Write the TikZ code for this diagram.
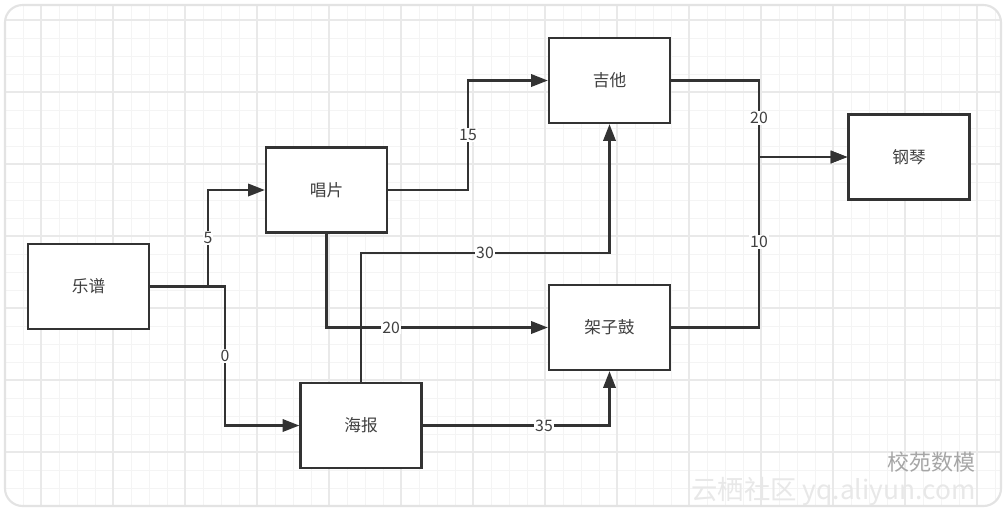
\documentclass[tikz,border=0pt]{standalone}
\usepackage{fontspec}
\setmainfont{Noto Sans CJK SC}
\usetikzlibrary{arrows.meta}
\definecolor{ln}{HTML}{333333}
\definecolor{gmin}{HTML}{F4F4F4}
\definecolor{gmaj}{HTML}{E9E9E9}
\tikzset{
  box/.style={draw=ln, line width=1.3pt, fill=white, minimum width=121*0.02cm, minimum height=85*0.02cm, inner sep=0pt, font=\fontsize{9.5}{11}\selectfont, text=black!75},
  conn/.style={draw=ln, line width=1.35pt},
  arr/.style={conn, -{Triangle[length=9.5pt,width=7pt]}},
  lbl/.style={fill=white, inner sep=0.6pt, font=\fontsize{9}{10}\selectfont, text=black!75}
}
\begin{document}
\begin{tikzpicture}[x=0.02cm,y=-0.02cm]
\useasboundingbox (0,0) rectangle (1008,512);
\fill[white] (0,0) rectangle (1008,512);
% grid
\begin{scope}
\clip[rounded corners=10] (5,5) rectangle (1001,506);
\foreach \i in {0,...,56} {\draw[gmin, line width=0.5pt] (5+18*\i,5) -- (5+18*\i,506);}
\foreach \i in {0,...,28} {\draw[gmin, line width=0.5pt] (5,2+18*\i) -- (1001,2+18*\i);}
\foreach \i in {-1,...,13} {\draw[gmaj, line width=0.6pt] (113+72*\i,5) -- (113+72*\i,506);}
\foreach \i in {-1,...,6} {\draw[gmaj, line width=0.6pt] (5,92+72*\i) -- (1001,92+72*\i);}
\end{scope}
\draw[gray!22, line width=1.2pt, rounded corners=10] (5,5) rectangle (1001,506);
% nodes
\node[box] (yp)  at (88.5,286.5) {乐谱};
\node[box] (cp)  at (326.5,190) {唱片};
\node[box] (jt)  at (609.5,80.5) {吉他};
\node[box] (gq)  at (909,157) {钢琴};
\node[box] (jzg) at (609.5,327.5) {架子鼓};
\node[box] (hb)  at (361,425.5) {海报};
% connectors
\draw[arr] (yp.east) -- (208,286.5) |- node[lbl,pos=0.25]{5} (cp.west);
\draw[arr] (yp.east) -- (225,286.5) |- node[lbl,pos=0.25]{0} (hb.west);
\draw[arr] (cp.east) -- (468,190) |- node[lbl,pos=0.25]{15} (jt.west);
\draw[arr] (cp.south) |- node[lbl,pos=0.646]{20} (jzg.west);
\draw[arr] (hb.north) |- (485,253) node[lbl]{30} -| (jt.south);
\draw[arr] (hb.east) -- (544,425.5) node[lbl]{35} -| (jzg.south);
\draw[arr] (jt.east) -| (759,118) node[lbl]{20} -- (759,157) -- (gq.west);
\draw[arr] (jzg.east) -| (759,242) node[lbl]{10} -- (759,157) -- (gq.west);
% watermark
\node[anchor=east, text=gray!70, font=\fontsize{12.5}{13}\selectfont, inner sep=0pt] (wm1) at (976,462) {校苑数模};
\node[anchor=east, text=gray!18, font=\fontsize{15}{16}\selectfont, inner sep=0pt] (wm2) at (976,491) {云栖社区 yq.aliyun.com};
\end{tikzpicture}
\end{document}
